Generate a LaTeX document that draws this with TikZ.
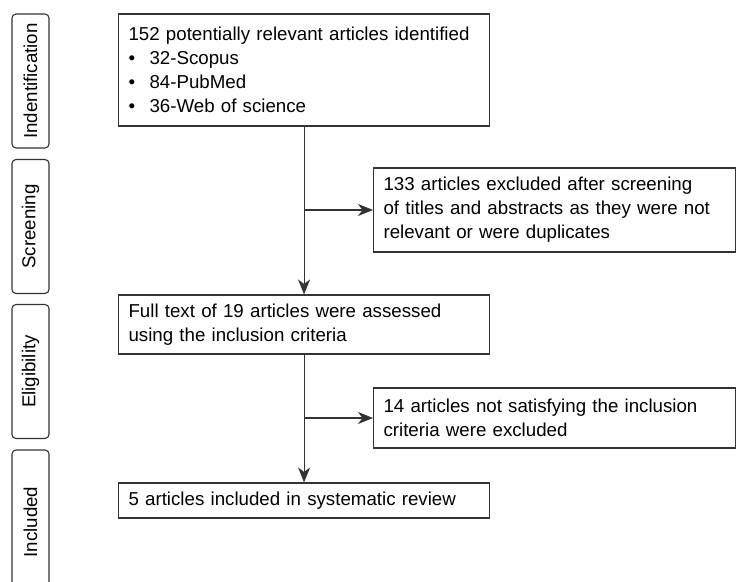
\documentclass[tikz,border=0pt]{standalone}
\usepackage{fontspec}
\setmainfont{Liberation Sans}
\usetikzlibrary{arrows.meta,positioning}
\begin{document}
\begin{tikzpicture}[x=1pt,y=-1pt,
  font=\fontsize{18.7}{24}\selectfont,
  line/.style={draw=black!80,line width=1.1pt},
  stage/.style={line,rounded corners=4pt,rotate=90,minimum width=134pt,minimum height=37pt,inner sep=0pt},
  block/.style={line,anchor=west,align=left,inner xsep=10pt,inner ysep=0pt},
  arr/.style={line,-{Stealth[length=15pt,width=12pt,inset=4.5pt]}}]
\useasboundingbox (0,0) rectangle (736,581);
% stages on the left
\node[stage] (identstage) at (30.5,81) {Indentification};
\node[stage] (screenstage) at (30.5,226.5) {Screening};
\node[stage] (eligstage) at (30.5,371.5) {Eligibility};
\node[stage,minimum width=144pt] (inclstage) at (30.5,522) {Included};
% main column
\node[block,text width=351pt,minimum height=112pt] (ident) at (118,70)
  {152 potentially relevant articles identified\\
   \makebox[21pt][l]{\textbullet}32-Scopus\\
   \makebox[21pt][l]{\textbullet}84-PubMed\\
   \makebox[21pt][l]{\textbullet}36-Web of science};
\node[block,text width=351pt,minimum height=59pt] (full) at (118,324.5)
  {Full text of 19 articles were assessed\\using the inclusion criteria};
\node[block,text width=351pt,minimum height=35pt] (incl) at (118,500.5)
  {5 articles included in systematic review};
% excluded
\node[block,text width=342pt,minimum height=84pt] (excl1) at (373,210)
  {133 articles excluded after screening\\of titles and abstracts as they were not\\relevant or were duplicates};
\node[block,text width=342pt,minimum height=60pt] (excl2) at (373,418)
  {14 articles not satisfying the inclusion\\criteria were excluded};
% arrows
\coordinate (fork1) at (ident.south |- excl1.west);
\coordinate (fork2) at (full.south |- excl2.west);
\draw[arr] (ident.south) -- (full.north);
\draw[arr] (fork1) -- (excl1.west);
\draw[arr] (full.south) -- (incl.north);
\draw[arr] (fork2) -- (excl2.west);
\end{tikzpicture}
\end{document}
